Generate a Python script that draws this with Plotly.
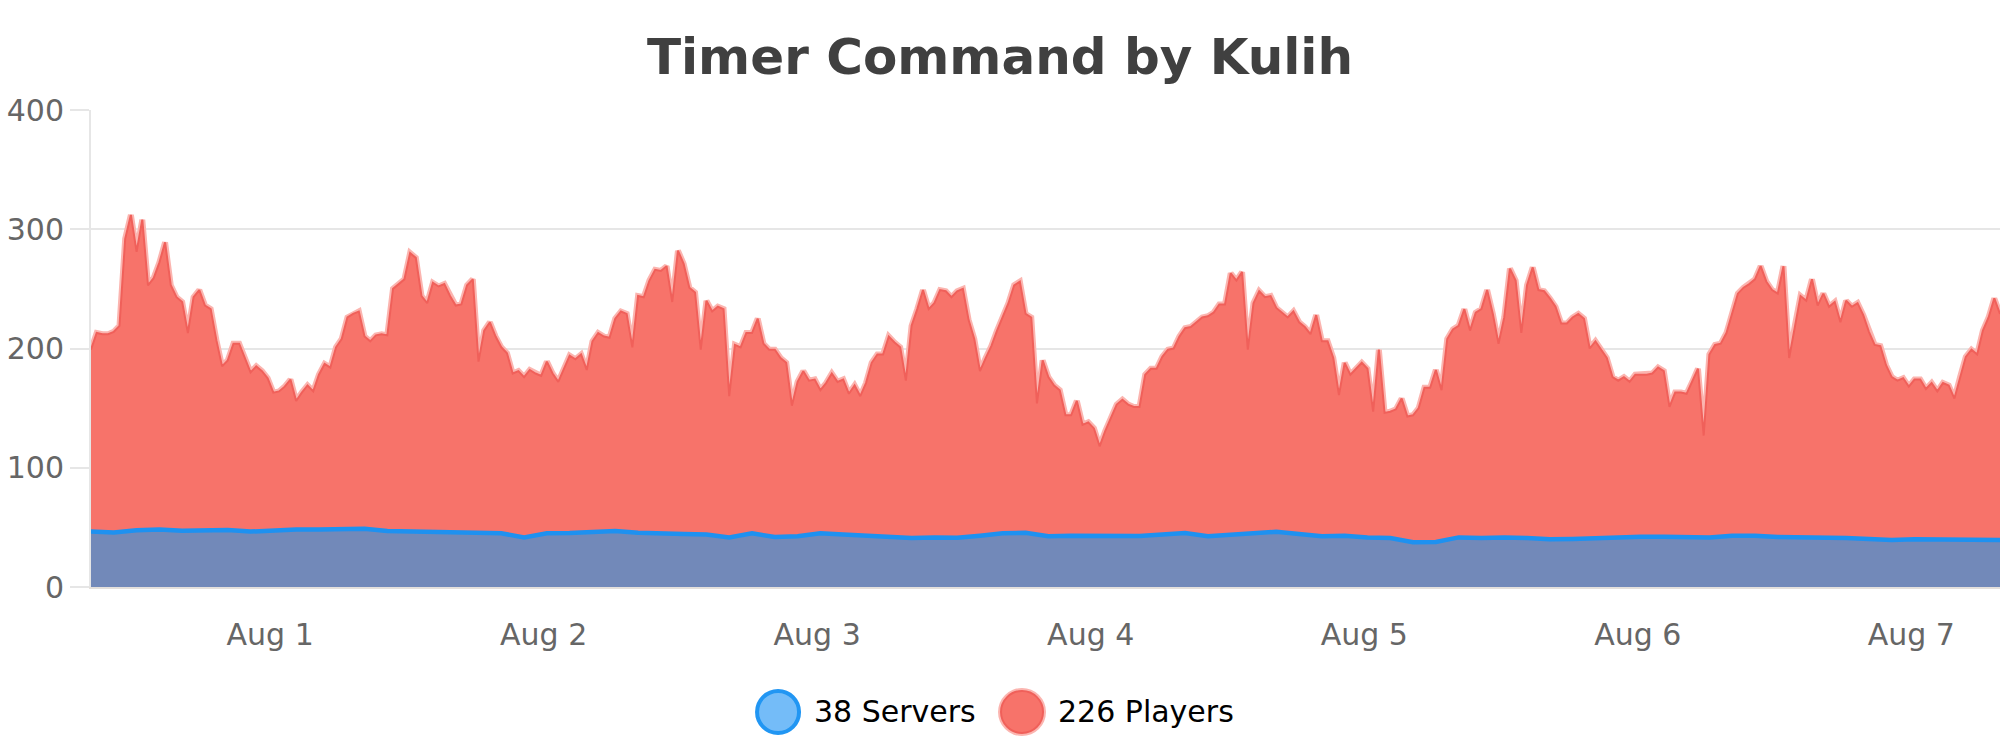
import plotly.graph_objects as go
import pandas as pd

# ---------------- data ----------------
title_text = "Timer Command by Kulih"
start_time = "2021-07-31 08:17"
step_minutes = 30

players = [
    199, 213, 212, 212, 214, 219, 292, 312, 281, 308,
    253, 259, 272, 289, 253, 243, 239, 213, 243, 249,
    236, 233, 207, 185, 190, 204, 204, 192, 180, 185,
    181, 175, 163, 164, 168, 174, 156, 163, 169, 164,
    178, 187, 184, 201, 208, 226, 229, 231, 210, 206,
    211, 212, 211, 250, 254, 258, 280, 276, 244, 238,
    255, 252, 254, 244, 236, 237, 253, 258, 189, 215,
    222, 210, 201, 196, 179, 181, 176, 182, 179, 177,
    189, 179, 172, 183, 194, 191, 195, 182, 206, 213,
    210, 209, 225, 231, 229, 201, 244, 243, 257, 266,
    265, 269, 239, 282, 271, 251, 247, 199, 240, 231,
    235, 233, 160, 203, 201, 213, 213, 225, 204, 199,
    199, 192, 188, 152, 172, 181, 173, 174, 165, 171,
    179, 172, 174, 162, 169, 160, 171, 188, 195, 195,
    210, 205, 201, 173, 219, 233, 249, 233, 238, 249,
    248, 243, 248, 250, 224, 208, 181, 192, 202, 215,
    226, 238, 253, 256, 229, 226, 154, 190, 176, 169,
    165, 144, 144, 156, 136, 138, 133, 118, 131, 142,
    153, 157, 153, 151, 151, 178, 183, 183, 193, 199,
    200, 210, 217, 218, 222, 226, 227, 230, 237, 237,
    263, 257, 264, 199, 238, 248, 243, 244, 234, 230,
    226, 231, 222, 218, 212, 228, 206, 206, 192, 161,
    188, 178, 183, 188, 183, 147, 199, 146, 147, 149,
    158, 143, 144, 150, 167, 167, 182, 165, 208, 216,
    219, 233, 215, 230, 233, 249, 229, 204, 226, 267,
    257, 213, 253, 268, 249, 248, 242, 235, 221, 221,
    226, 229, 225, 200, 206, 199, 192, 176, 173, 176,
    172, 178, 178, 178, 179, 184, 181, 151, 163, 163,
    162, 172, 183, 127, 195, 203, 204, 213, 229, 246,
    251, 254, 258, 269, 256, 249, 246, 269, 192, 219,
    244, 240, 258, 236, 246, 235, 239, 222, 240, 235,
    238, 228, 214, 203, 202, 186, 176, 173, 175, 168,
    174, 174, 166, 171, 164, 171, 169, 158, 176, 193,
    199, 195, 215, 226, 242, 229,
]

server_hours = list(range(0, 167, 2)) + [167.5]
servers = [
    46.6, 45.8, 47.5, 48.3, 47.2, 47.8, 47.8, 46.5, 47.5, 48.3,
    48.3, 48.3, 48.9, 47.0, 46.5, 46.5, 46.0, 45.5, 45.0, 41.6,
    45.0, 45.3, 46.0, 47.0, 45.5, 44.6, 44.4, 44.0, 41.5, 45.0,
    42.0, 42.5, 45.0, 44.0, 43.3, 42.5, 41.1, 41.6, 41.3, 43.0,
    45.0, 45.5, 42.5, 43.0, 43.0, 42.2, 42.8, 44.0, 45.3, 42.5,
    43.9, 45.5, 46.3, 44.4, 42.5, 43.0, 41.5, 41.1, 37.5, 37.8,
    41.6, 41.1, 41.6, 41.1, 40.0, 40.3, 41.1, 41.1, 42.2, 42.2,
    42.2, 41.5, 43.0, 43.0, 42.0, 41.8, 41.8, 41.0, 40.3, 39.5,
    40.0, 40.0, 39.8, 40.0, 39.5,
]

day_ticks = ["2021-08-01", "2021-08-02", "2021-08-03", "2021-08-04",
             "2021-08-05", "2021-08-06", "2021-08-07"]
day_labels = ["Aug 1", "Aug 2", "Aug 3", "Aug 4", "Aug 5", "Aug 6", "Aug 7"]
y_ticks = [0, 100, 200, 300, 400]
legend_labels = ["38 Servers", "226 Players"]

# ---------------- derived ----------------
t0 = pd.Timestamp(start_time)
player_times = [t0 + pd.Timedelta(minutes=step_minutes * i) for i in range(len(players))]
server_times = [t0 + pd.Timedelta(hours=h) for h in server_hours]

FONT = "DejaVu Sans"
RED_FILL = "#f7736a"
RED_LINE = "#f0605a"
RED_HALO = "#fbb5b0"
BLUE_FILL = "#7289b9"
BLUE_LINE = "#1e91f0"
GRID = "#e6e6e6"

fig = go.Figure()

# halo under players edge
fig.add_trace(go.Scatter(
    x=player_times, y=players, mode="lines",
    line=dict(color=RED_HALO, width=6), hoverinfo="skip", showlegend=False,
))
# players area
fig.add_trace(go.Scatter(
    x=player_times, y=players, mode="lines", fill="tozeroy",
    fillcolor=RED_FILL, line=dict(color=RED_LINE, width=2),
    name=legend_labels[1], showlegend=False,
))
# servers area
fig.add_trace(go.Scatter(
    x=server_times, y=servers, mode="lines", fill="tozeroy",
    fillcolor=BLUE_FILL, line=dict(color=BLUE_LINE, width=4.5),
    name=legend_labels[0], showlegend=False,
))

# ---------------- custom legend ----------------
leg_y = -0.262
shapes = [
    dict(type="circle", xref="paper", yref="paper", xsizemode="pixel", ysizemode="pixel",
         xanchor=0.3599, yanchor=leg_y, x0=-21, x1=21, y0=-21, y1=21,
         fillcolor="#74bcf8", line=dict(color="#2196f3", width=4), layer="above"),
    dict(type="circle", xref="paper", yref="paper", xsizemode="pixel", ysizemode="pixel",
         xanchor=0.4877, yanchor=leg_y, x0=-24, x1=24, y0=-24, y1=24,
         fillcolor=RED_HALO, line=dict(width=0), layer="above"),
    dict(type="circle", xref="paper", yref="paper", xsizemode="pixel", ysizemode="pixel",
         xanchor=0.4877, yanchor=leg_y, x0=-21, x1=21, y0=-21, y1=21,
         fillcolor=RED_FILL, line=dict(color=RED_LINE, width=2), layer="above"),
]
annotations = [
    dict(text=legend_labels[0], x=0.3775, y=leg_y, xref="paper", yref="paper",
         xanchor="left", yanchor="middle", showarrow=False,
         font=dict(family=FONT, size=30, color="#000000")),
    dict(text=legend_labels[1], x=0.5053, y=leg_y, xref="paper", yref="paper",
         xanchor="left", yanchor="middle", showarrow=False,
         font=dict(family=FONT, size=30, color="#000000")),
]

fig.update_layout(
    width=2000, height=750,
    margin=dict(l=91, r=0, t=110, b=163),
    paper_bgcolor="white", plot_bgcolor="white",
    font=dict(family=FONT),
    title=dict(text="<b>" + title_text + "</b>", x=0.5, xref="container", xanchor="center",
               y=1 - 56 / 750, yref="container", yanchor="middle",
               font=dict(family=FONT, size=50, color="#404040")),
    showlegend=False,
    shapes=shapes,
    annotations=annotations,
    hovermode="x",
)

fig.update_xaxes(
    type="date",
    range=[player_times[0], player_times[-1]],
    tickvals=day_ticks, ticktext=day_labels,
    tickfont=dict(family=FONT, size=30, color="#666666"),
    showgrid=False, zeroline=False,
    showline=True, linecolor="#e4e0dc", linewidth=2,
    ticks="", ticklabelstandoff=20,
)
fig.update_yaxes(
    range=[0, 400], tickvals=y_ticks,
    tickfont=dict(family=FONT, size=30, color="#666666"),
    showgrid=True, gridcolor=GRID, gridwidth=2,
    zeroline=False,
    showline=True, linecolor=GRID, linewidth=2,
    ticks="outside", ticklen=19, tickwidth=2, tickcolor=GRID,
    ticklabelstandoff=0,
)

fig.write_html("out.html", config={"displayModeBar": False},
               post_script="document.body.style.margin='0';")
